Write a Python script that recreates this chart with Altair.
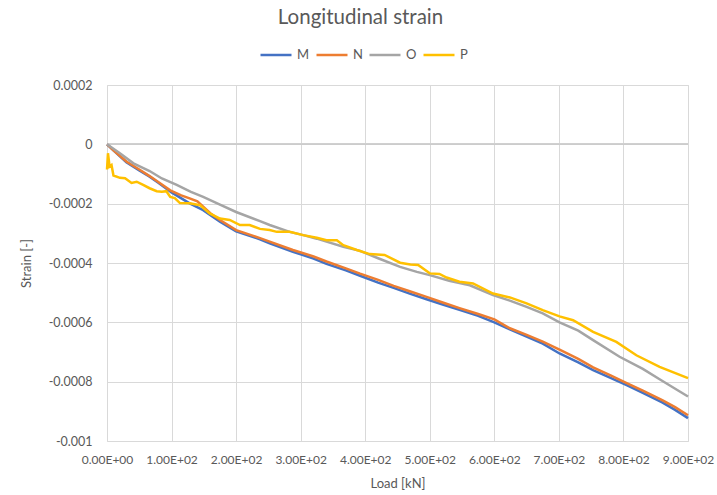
import altair as alt
import pandas as pd

series_names = ["M", "N", "O", "P"]
series_colors = ["#4472C4", "#ED7D31", "#A5A5A5", "#FFC000"]

m_load = [0, 10, 30, 50, 66, 80, 100, 128, 149, 175, 200, 237, 252, 288, 320, 340, 370, 392,
          420, 444, 470, 495, 520, 546, 575, 600, 624, 650, 675, 701, 730, 753, 780, 805, 830,
          860, 880, 900]
m_strain = [0, -0.00002, -0.00006, -0.000088, -0.000109, -0.00013, -0.000162, -0.000199,
            -0.000222, -0.000261, -0.000293, -0.00032, -0.000334, -0.000362, -0.000385,
            -0.000403, -0.000425, -0.000443, -0.000466, -0.000484, -0.000504, -0.000522,
            -0.00054, -0.000558, -0.000578, -0.0006, -0.000624, -0.000648, -0.000672,
            -0.000705, -0.000735, -0.000761, -0.000787, -0.000812, -0.000838, -0.00087,
            -0.000895, -0.000923]

n_load = [0, 10, 30, 50, 66, 80, 98, 115, 128, 140, 149, 160, 175, 200, 237, 252, 288, 320,
          340, 370, 392, 420, 444, 470, 495, 520, 546, 575, 600, 624, 650, 675, 701, 730, 753,
          780, 805, 830, 860, 880, 900]
n_strain = [0, -0.00002, -0.000058, -0.000085, -0.000107, -0.000128, -0.000155, -0.000172,
            -0.000182, -0.000192, -0.00021, -0.000232, -0.000255, -0.000289, -0.000316,
            -0.000328, -0.000356, -0.000378, -0.000395, -0.000418, -0.000436, -0.000457,
            -0.000477, -0.000496, -0.000514, -0.000533, -0.000552, -0.000572, -0.00059,
            -0.00062, -0.000642, -0.000665, -0.000692, -0.000723, -0.000752, -0.000779,
            -0.000805, -0.00083, -0.000862, -0.000886, -0.000913]

o_load = [0, 20, 41, 66, 85, 108, 130, 149, 175, 200, 237, 252, 283, 304, 325, 340, 366, 392,
          420, 454, 480, 500, 530, 562, 598, 624, 650, 675, 701, 730, 753, 794, 830, 856, 884,
          900]
o_strain = [0, -0.00003, -0.000064, -0.00009, -0.000115, -0.000137, -0.00016, -0.000177,
            -0.000203, -0.000228, -0.000259, -0.000272, -0.000295, -0.000306, -0.000318,
            -0.000328, -0.000345, -0.000359, -0.000384, -0.000413, -0.00043, -0.000441,
            -0.00046, -0.000475, -0.000508, -0.000527, -0.000548, -0.00057, -0.0006,
            -0.000628, -0.00066, -0.000716, -0.000757, -0.000792, -0.000829, -0.00085]

p_load = [0, 1.5, 4, 7, 10, 20, 28, 38, 46, 56, 66, 77, 85, 92, 98, 105, 113, 128, 144, 159,
          175, 190, 206, 221, 237, 252, 263, 283, 304, 325, 340, 356, 366, 387, 407, 430, 454,
          470, 482, 500, 515, 526, 546, 567, 598, 624, 650, 675, 701, 722, 753, 789, 820, 856,
          900]
p_strain = [-0.000085, -0.00003, -0.000075, -0.00007, -0.000105, -0.000113, -0.000114,
            -0.00013, -0.000126, -0.000137, -0.000148, -0.000158, -0.00016, -0.000158,
            -0.000177, -0.000181, -0.000198, -0.000199, -0.000205, -0.000233, -0.00025,
            -0.000255, -0.000272, -0.000272, -0.000285, -0.000289, -0.000295, -0.000295,
            -0.000306, -0.000315, -0.000323, -0.000323, -0.00034, -0.000356, -0.00037,
            -0.000373, -0.000399, -0.000405, -0.000407, -0.000435, -0.000437, -0.000449,
            -0.000463, -0.000469, -0.000503, -0.000516, -0.000536, -0.000559, -0.00058,
            -0.000593, -0.000632, -0.000666, -0.000711, -0.00075, -0.000788]

x_ticks = [0, 100, 200, 300, 400, 500, 600, 700, 800, 900]
y_ticks = [0.0002, 0, -0.0002, -0.0004, -0.0006, -0.0008, -0.001]

rows = []
for name, xs, ys in [("M", m_load, m_strain), ("N", n_load, n_strain),
                     ("O", o_load, o_strain), ("P", p_load, p_strain)]:
    for i, (x, y) in enumerate(zip(xs, ys)):
        rows.append({"series": name, "load": x, "strain": y, "idx": i})
df = pd.DataFrame(rows)

FONT = "Lato"
TXT = "#595959"
GRID = "#D9D9D9"

x_enc = alt.X(
    "load:Q",
    scale=alt.Scale(domain=[0, 900], nice=False),
    axis=alt.Axis(
        values=x_ticks,
        labelExpr="replace(format(datum.value, '.2e'), 'e+', 'E+0')",
        title="Load [kN]",
        grid=True, gridColor=GRID, gridWidth=1,
        domain=False, ticks=False, tickSize=0,
        labelPadding=13, labelFont=FONT, labelFontSize=12, labelColor=TXT,
        titleFont=FONT, titleFontSize=13, titleColor=TXT, titleFontWeight="normal",
        titlePadding=12, labelFlush=False,
    ),
)
y_enc = alt.Y(
    "strain:Q",
    scale=alt.Scale(domain=[-0.001, 0.0002], nice=False, zero=False),
    axis=alt.Axis(
        values=y_ticks,
        labelExpr="replace(format(datum.value, '~g'), '\u2212', '-')",
        title="Strain [-]",
        grid=True, gridColor=GRID, gridWidth=1,
        domain=False, ticks=False, tickSize=0,
        labelPadding=15, labelFont=FONT, labelFontSize=12.5, labelColor=TXT,
        titleFont=FONT, titleFontSize=13, titleColor=TXT, titleFontWeight="normal",
        titlePadding=15, labelFlush=False,
    ),
)

zero_line = alt.Chart(df).mark_rule(color="#CCCCCC", strokeWidth=1).encode(
    y=alt.datum(0)
)

lines = alt.Chart(df).mark_line(strokeWidth=2.5).encode(
    x=x_enc,
    y=y_enc,
    order="idx:Q",
    color=alt.Color(
        "series:N",
        scale=alt.Scale(domain=series_names, range=series_colors),
        legend=alt.Legend(
            orient="none", legendX=152, legendY=-47, direction="horizontal",
            title=None, symbolType="stroke", symbolSize=961, symbolStrokeWidth=2.5,
            labelFont=FONT, labelFontSize=13, labelColor=TXT,
            columnPadding=1, labelOffset=4,
        ),
    ),
)

chart = alt.layer(zero_line, lines).properties(
    width=581,
    height=356,
    padding={"left": 107, "top": 85, "right": 29, "bottom": 54},
    autosize=alt.AutoSizeParams(type="none"),
    title=alt.TitleParams(
        "Longitudinal strain", font=FONT, fontSize=20.5, color=TXT, fontWeight="normal",
        anchor="middle", frame="group", dx=-37, offset=10,
    ),
).configure_view(stroke=None).configure(background="white")

chart.save("out.html", embed_options={"renderer": "svg", "actions": False})
